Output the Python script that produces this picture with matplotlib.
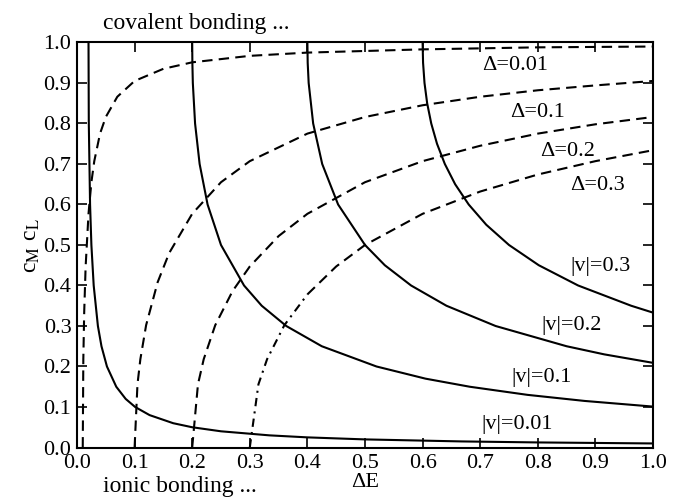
import matplotlib
matplotlib.use("Agg")
import matplotlib.pyplot as plt

plt.rcParams['font.family'] = ['Liberation Serif', 'DejaVu Serif']
plt.rcParams['mathtext.fontset'] = 'stix'

# |v| = const : (dE, cM*cL)
v001_x = [0.020, 0.0205, 0.0227, 0.025, 0.029, 0.0363, 0.0425, 0.052, 0.0682, 0.0845, 0.101,
          0.126, 0.167, 0.200, 0.250, 0.334, 0.400, 0.500, 0.668, 0.801, 1.000]
v001_y = [1.000, 0.80, 0.60, 0.50, 0.40, 0.30, 0.25, 0.20, 0.15, 0.12, 0.10,
          0.08, 0.06, 0.05, 0.04, 0.03, 0.025, 0.02, 0.015, 0.0125, 0.010]

v01_x = [0.200, 0.2003, 0.2011, 0.205, 0.2129, 0.2267, 0.250, 0.290, 0.3207, 0.3633, 0.425,
         0.520, 0.605, 0.682, 0.782, 0.881, 1.000]
v01_y = [1.000, 0.95, 0.90, 0.80, 0.70, 0.60, 0.50, 0.40, 0.35, 0.30, 0.25,
         0.20, 0.17, 0.15, 0.13, 0.115, 0.101]

v02_x = [0.400, 0.4005, 0.4022, 0.410, 0.4257, 0.4533, 0.500, 0.5344, 0.580, 0.6414, 0.7267,
         0.850, 0.9152, 1.000]
v02_y = [1.000, 0.95, 0.90, 0.80, 0.70, 0.60, 0.50, 0.45, 0.40, 0.35, 0.30,
         0.25, 0.23, 0.209]

v03_x = [0.600, 0.6008, 0.6033, 0.6079, 0.615, 0.625, 0.6386, 0.6565, 0.680, 0.7105, 0.750,
         0.8017, 0.870, 0.9621, 1.000]
v03_y = [1.000, 0.95, 0.90, 0.85, 0.80, 0.75, 0.70, 0.65, 0.60, 0.55, 0.50,
         0.45, 0.40, 0.35, 0.333]

# Delta = const : (dE, cM*cL)
d001_x = [0.010, 0.011, 0.0125, 0.015, 0.020, 0.025, 0.030, 0.040, 0.050, 0.070, 0.100,
          0.150, 0.200, 0.300, 0.400, 0.600, 0.800, 1.000]
d001_y = [0.000, 0.218, 0.333, 0.447, 0.577, 0.655, 0.707, 0.775, 0.816, 0.866, 0.905,
          0.935, 0.951, 0.967, 0.975, 0.983, 0.988, 0.990]

d01_x = [0.100, 0.105, 0.110, 0.120, 0.140, 0.160, 0.200, 0.250, 0.300, 0.400, 0.500,
         0.600, 0.700, 0.800, 0.900, 1.000]
d01_y = [0.000, 0.156, 0.218, 0.302, 0.408, 0.480, 0.577, 0.655, 0.707, 0.775, 0.816,
         0.845, 0.866, 0.882, 0.894, 0.905]

d02_x = [0.200, 0.210, 0.220, 0.240, 0.270, 0.300, 0.350, 0.400, 0.500, 0.600, 0.700,
         0.800, 0.900, 1.000]
d02_y = [0.000, 0.156, 0.218, 0.302, 0.386, 0.447, 0.522, 0.577, 0.655, 0.707, 0.745,
         0.775, 0.798, 0.816]

d03_x = [0.300, 0.315, 0.330, 0.360, 0.400, 0.450, 0.500, 0.600, 0.700, 0.800, 0.900, 1.000]
d03_y = [0.000, 0.156, 0.218, 0.302, 0.378, 0.447, 0.500, 0.577, 0.632, 0.674, 0.707, 0.734]

v_labels = ['|v|=0.01', '|v|=0.1', '|v|=0.2', '|v|=0.3']
v_label_pos = [(0.764, 0.056), (0.807, 0.174), (0.859, 0.302), (0.908, 0.446)]
d_labels = ['\u0394=0.01', '\u0394=0.1', '\u0394=0.2', '\u0394=0.3']
d_label_pos = [(0.760, 0.944), (0.800, 0.828), (0.851, 0.730), (0.903, 0.648)]

fig = plt.figure(figsize=(6.73, 4.98), dpi=100)
ax = fig.add_axes([0.1144, 0.1014, 0.8559, 0.8133])

lw = 1.5
for x, y in [(v001_x, v001_y), (v01_x, v01_y), (v02_x, v02_y), (v03_x, v03_y)]:
    ax.plot(x, y, color='black', lw=lw, solid_joinstyle='round')

for x, y in [(d001_x, d001_y), (d01_x, d01_y), (d02_x, d02_y)]:
    ax.plot(x, y, color='black', lw=lw, dashes=(5.0, 3.0))
# Delta=0.3: dash-dot along the steep part, plain dashes above
ax.plot(d03_x[:5], d03_y[:5], color='black', lw=lw, dashes=(4.0, 2.5, 1.0, 2.5))
ax.plot(d03_x[4:], d03_y[4:], color='black', lw=lw, dashes=(5.0, 3.0))

fs = 16
for t, (x, y) in zip(v_labels, v_label_pos):
    ax.text(x, y, t, fontsize=fs, ha='center', va='center')
for t, (x, y) in zip(d_labels, d_label_pos):
    ax.text(x, y, t, fontsize=fs, ha='center', va='center')

ax.set_xlim(0, 1)
ax.set_ylim(0, 1)
ticks = [i / 10 for i in range(11)]
ax.set_xticks(ticks)
ax.set_yticks(ticks)
ax.set_xticklabels(['%.1f' % t for t in ticks])
ax.set_yticklabels(['%.1f' % t for t in ticks])
ax.tick_params(direction='in', length=7.5, width=1.2, top=True, right=True,
               labelsize=fs, pad=4)
ax.tick_params(axis='x', pad=5)
for s in ax.spines.values():
    s.set_linewidth(1.5)

ax.set_xlabel('\u0394E', fontsize=fs, labelpad=0)
ax.set_ylabel(r'c$_{\rm M}$ c$_{\rm L}$', fontsize=fs + 1, labelpad=1)

fig.text(103 / 673, 1 - 24 / 498, 'covalent bonding ...', fontsize=fs + 1, ha='left', va='center')
fig.text(103 / 673, 1 - 486 / 498, 'ionic bonding ...', fontsize=fs + 1, ha='left', va='center')

fig.savefig('out.png', dpi=100)
